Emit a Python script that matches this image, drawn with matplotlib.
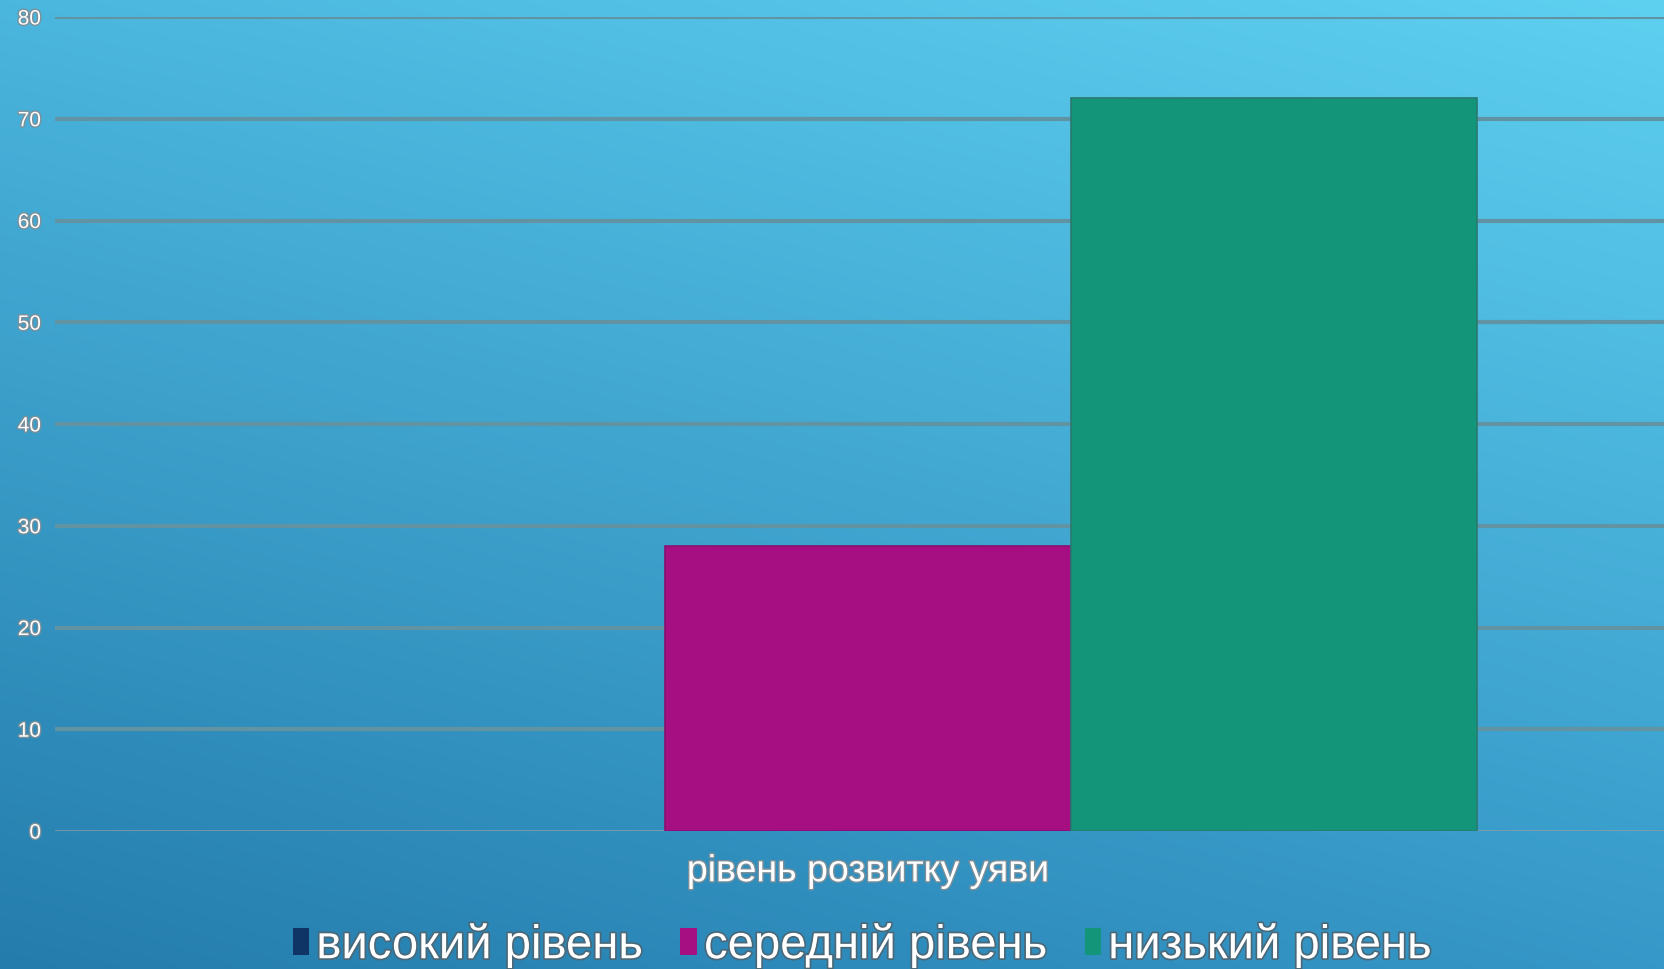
import numpy as np
import matplotlib.pyplot as plt
import matplotlib.patheffects as pe
from matplotlib.patches import Patch

plt.rcParams["font.family"] = ["Liberation Sans", "DejaVu Sans"]

series = ["високий рівень", "середній рівень", "низький рівень"]
values = [0, 28, 72]
colors = ["#0e3566", "#a50f82", "#13957a"]
edges = ["#0a2a50", "#8a1070", "#2a7a70"]
category = "рівень розвитку уяви"
yticks = [0, 10, 20, 30, 40, 50, 60, 70, 80]

W, H = 1665, 970
fig = plt.figure(figsize=(W / 100, H / 100), dpi=100)

# background gradient (dark bottom-left -> light top-right)
bg = fig.add_axes([0, 0, 1, 1], zorder=0)
bg.axis("off")
tl = np.array([75, 182, 222]) / 255
tr = np.array([94, 208, 240]) / 255
bl = np.array([36, 124, 172]) / 255
br = np.array([54, 152, 200]) / 255
yy, xx = np.mgrid[0:1:200j, 0:1:340j]
img = (tl * ((1 - xx) * (1 - yy))[..., None] + tr * (xx * (1 - yy))[..., None]
       + bl * ((1 - xx) * yy)[..., None] + br * (xx * yy)[..., None])
bg.imshow(img, aspect="auto", extent=[0, 1, 0, 1], interpolation="bilinear")

ax = fig.add_axes([55 / W, 1 - 832 / H, (W - 55) / W, 814 / H], zorder=1)
ax.patch.set_alpha(0)

x = np.arange(len(series)) - 1
for xi, v, c, e in zip(x, values, colors, edges):
    ax.bar(xi, v, width=1.0, color=c, edgecolor=e,
           linewidth=1.2 if v > 0 else 0, zorder=3)

ax.set_xlim(-2.004, 1.964)
ax.set_ylim(0, 80)
for t in yticks[1:]:
    ax.axhline(t, color="#6193a3", lw=3.0, zorder=1)
ax.axhline(0, color="#8a9ca4", lw=1.8, zorder=1)

outline = [pe.withStroke(linewidth=2, foreground="#7d8f98")]
ax.set_yticks(yticks)
ax.set_yticklabels([str(t) for t in yticks], color="white", fontsize=15,
                   path_effects=outline)
ax.set_xticks([0])
ax.set_xticklabels([category], color="white", fontsize=27,
                   path_effects=outline)
ax.tick_params(axis="both", length=0)
ax.tick_params(axis="y", pad=10)
ax.tick_params(axis="x", pad=16)
for s in ax.spines.values():
    s.set_visible(False)

handles = [Patch(facecolor=c, edgecolor="none") for c in colors]
leg = fig.legend(handles, series, loc="center",
                 bbox_to_anchor=(862 / W, 1 - 947 / H), ncol=3, frameon=False,
                 fontsize=34, handlelength=0.35, handleheight=0.5,
                 handletextpad=0.15, columnspacing=0.8)
for t in leg.get_texts():
    t.set_color("white")
    t.set_path_effects([pe.withStroke(linewidth=2.5, foreground="#4a6878")])

fig.savefig("out.png", dpi=100)
